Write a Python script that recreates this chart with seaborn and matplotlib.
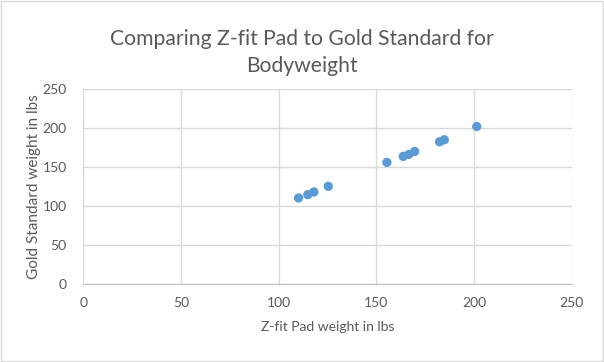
import matplotlib.pyplot as plt
import pandas as pd
import seaborn as sns

# readings (lbs)
zfit_pad = [110.2, 114.9, 118.0, 125.4, 155.4, 163.8, 166.6, 169.6, 182.4, 184.8, 201.4]
gold_standard = [110.7, 115.0, 118.4, 125.6, 156.3, 164.0, 166.5, 170.4, 182.7, 185.3, 202.3]
ticks = [0, 50, 100, 150, 200, 250]

df = pd.DataFrame({'pad': zfit_pad, 'gold': gold_standard})

sns.set_style('white')
plt.rcParams['font.family'] = ['Lato', 'DejaVu Sans']

fig = plt.figure(figsize=(6.04, 3.62), dpi=100)
ax = fig.add_axes([0.1379, 0.2146, 0.8086, 0.5387])

sns.scatterplot(data=df, x='pad', y='gold', ax=ax, color='#5B9BD5', s=45, edgecolor='none', zorder=3)

ax.set_xlim(0, 250)
ax.set_ylim(0, 250)
ax.set_xticks(ticks)
ax.set_yticks(ticks)
ax.grid(True, color='#D9D9D9', linewidth=1)
for side in ['top', 'right', 'left']:
    ax.spines[side].set_visible(False)
ax.spines['bottom'].set_color('#BFBFBF')
ax.tick_params(axis='both', length=0, labelsize=10, labelcolor='#595959')
ax.tick_params(axis='y', pad=12)
ax.tick_params(axis='x', pad=9)

ax.set_xlabel('Z-fit Pad weight in lbs', fontsize=10, color='#595959', labelpad=9)
ax.set_ylabel('Gold Standard weight in lbs', fontsize=11, color='#595959', labelpad=1)
fig.text(0.5, 1 - 72 / 362, 'Comparing Z-fit Pad to Gold Standard for\nBodyweight',
         ha='center', va='baseline', multialignment='center',
         fontsize=15.2, color='#595959', linespacing=1.45)

# outer chart border
fig.patches.append(plt.Rectangle((0.001, 0.002), 0.997, 0.995, transform=fig.transFigure,
                                 fill=False, edgecolor='#D9D9D9', linewidth=1))

fig.savefig('out.png', dpi=100)
